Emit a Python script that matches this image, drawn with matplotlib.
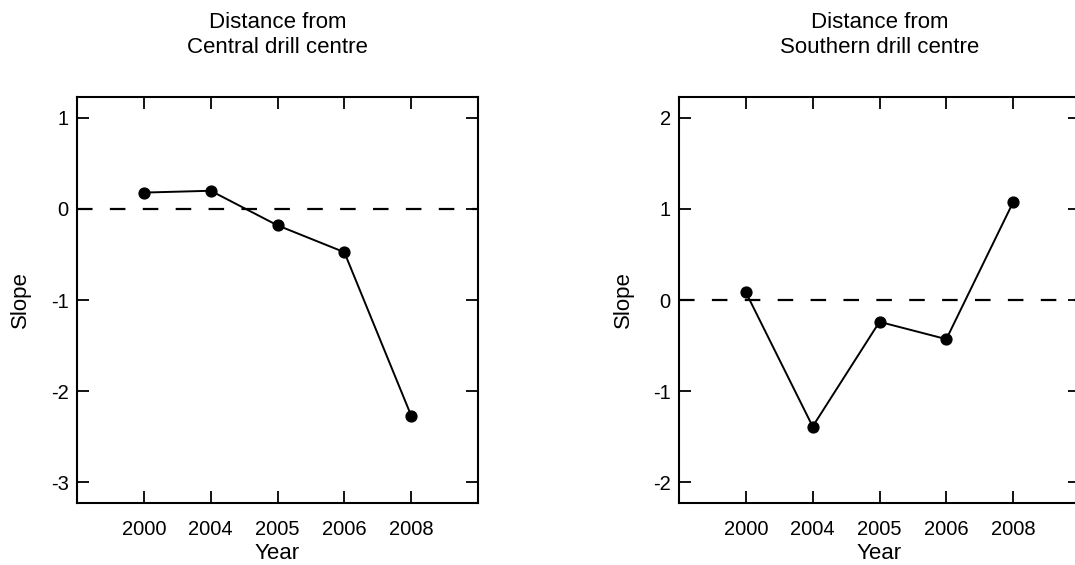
import numpy as np
import matplotlib
matplotlib.use('Agg')
import matplotlib.pyplot as plt

plt.rcParams['font.family'] = ['Liberation Sans', 'DejaVu Sans']

years = ['2000', '2004', '2005', '2006', '2008']
central_slope = [0.18, 0.20, -0.18, -0.475, -2.27]
southern_slope = [0.085, -1.39, -0.24, -0.43, 1.075]

panels = [
    ('Distance from\nCentral drill centre', central_slope, [1, 0, -1, -2, -3], (-3.23, 1.23)),
    ('Distance from\nSouthern drill centre', southern_slope, [2, 1, 0, -1, -2], (-2.23, 2.23)),
]

W, H = 1075, 565
fig = plt.figure(figsize=(W / 100, H / 100), dpi=100)

# axes boxes in pixels: left, bottom, width, height
boxes = [(77, 62, 401, 406), (679, 62, 401, 406)]

fs = 14.5
lfs = 16
x = np.arange(1, len(years) + 1)
for (title, vals, yt, ylim), (l, b, w, h) in zip(panels, boxes):
    ax = fig.add_axes([l / W, b / H, w / W, h / H])
    ax.axhline(0, color='black', lw=1.6, dashes=(7.0, 7.8), zorder=1)
    ax.plot(x, vals, color='black', lw=1.4, marker='o', ms=7.8, zorder=3)
    ax.set_xlim(0, 6)
    ax.set_ylim(*ylim)
    ax.set_xticks(x)
    ax.set_xticklabels(years)
    ax.set_yticks(yt)
    ax.set_yticklabels([str(v) for v in yt])
    ax.tick_params(direction='in', length=8.5, width=1.3, top=True, right=True,
                   labelsize=fs, colors='black')
    ax.tick_params(axis='x', pad=12)
    ax.tick_params(axis='y', pad=6)
    for s in ax.spines.values():
        s.set_linewidth(1.5)
    ax.set_xlabel('Year', fontsize=lfs, labelpad=3)
    ax.set_ylabel('Slope', fontsize=lfs, labelpad=14)
    ax.set_title(title, fontsize=lfs, pad=32, linespacing=1.25)

fig.savefig('out.png', dpi=100)
